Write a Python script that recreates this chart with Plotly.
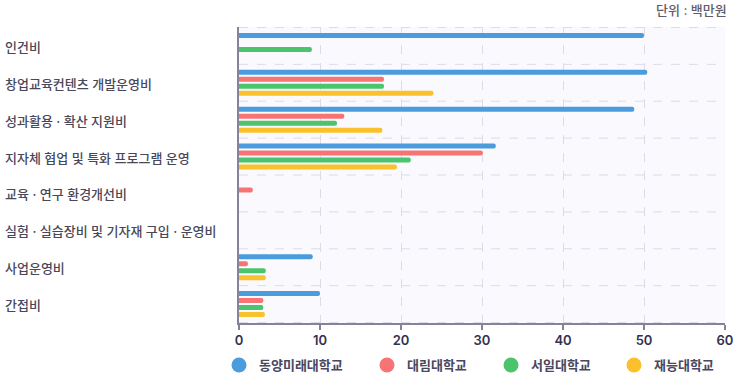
import plotly.graph_objects as go

categories = ["인건비", "창업교육컨텐츠 개발운영비", "성과활용 · 확산 지원비", "지자체 협업 및 특화 프로그램 운영",
              "교육 · 연구 환경개선비", "실험 · 실습장비 및 기자재 구입 · 운영비", "사업운영비", "간접비"]
series_names = ["동양미래대학교", "대림대학교", "서일대학교", "재능대학교"]
dongyang = [50.0, 50.4, 48.8, 31.7, 0, 0, 9.1, 10.0]
daelim = [0, 17.9, 13.0, 30.1, 1.7, 0, 1.1, 3.0]
seoil = [9.0, 17.9, 12.1, 21.2, 0, 0, 3.3, 3.0]
jaeneung = [0, 24.0, 17.7, 19.5, 0, 0, 3.3, 3.2]
x_ticks = [0, 10, 20, 30, 40, 50, 60]
colors = ["#4a9cdc", "#f87474", "#4bc46c", "#fbc12c"]

FONT = "Inter, Noto Sans CJK KR"
W, H = 736, 377
L, R, T, B = 239, 11, 27, 54
PW, PH = W - L - R, H - T - B

fig = go.Figure()
for name, vals, col in zip(series_names, [dongyang, daelim, seoil, jaeneung], colors):
    fig.add_trace(go.Bar(y=categories, x=vals, name=name, orientation="h",
                         marker=dict(color=col, line=dict(width=0)), showlegend=False))
legend_ids = ["legend", "legend2", "legend3", "legend4"]
for name, col, lid in zip(series_names, colors, legend_ids):
    fig.add_trace(go.Scatter(x=[None], y=[None], mode="markers", name=name, legend=lid,
                             marker=dict(color=col, size=15, symbol="circle")))

shapes = []
for i in range(len(categories) + 1):
    shapes.append(dict(type="line", xref="paper", x0=0, x1=1, yref="y", y0=i - 0.5, y1=i - 0.5,
                       line=dict(color="#dddbe9", width=1, dash="dash"), layer="below"))

annotations = []
for c in categories:
    annotations.append(dict(text=c, x=(3 - L) / PW, xref="paper", xanchor="left", y=c, yref="y",
                            yshift=-1, showarrow=False,
                            font=dict(size=13, color="#4a4759", family=FONT, weight=500)))
annotations.append(dict(text="단위 : 백만원", x=(729 - L) / PW, xref="paper", xanchor="right",
                        y=1 + (T - 10) / PH, yref="paper", yanchor="middle", showarrow=False,
                        font=dict(size=13, color="#5f5d6b", family=FONT, weight=500)))

legend_left_px = [219, 367, 491, 614]
legend_cfg = {}
for lid, lx in zip(legend_ids, legend_left_px):
    legend_cfg[lid] = dict(orientation="h", x=(lx - L) / PW, xanchor="left", y=-42 / PH, yanchor="middle",
                           font=dict(size=13, color="#4a4760", family=FONT, weight=600),
                           bgcolor="rgba(0,0,0,0)", borderwidth=0)

fig.update_layout(
    width=W, height=H,
    margin=dict(l=L, r=R, t=T, b=B, autoexpand=False),
    paper_bgcolor="white", plot_bgcolor="#f9f9fe",
    barmode="group", bargap=0.24, bargroupgap=0.29, barcornerradius=3,
    font=dict(family=FONT, color="#3d3a5a"),
    shapes=shapes, annotations=annotations,
    **legend_cfg,
)
fig.update_xaxes(range=[0, 60], tickvals=x_ticks, showgrid=True, gridcolor="#dddbe9", griddash="dash",
                 zeroline=False, showline=True, linecolor="#85829a", linewidth=1.5,
                 ticks="outside", ticklen=5, tickcolor="#85829a", tickwidth=1.5,
                 tickfont=dict(size=13, color="#34314f", family=FONT, weight=600))
fig.update_yaxes(autorange="reversed", showticklabels=False, showgrid=False, zeroline=False,
                 showline=True, linecolor="#85829a", linewidth=1.5, ticks="")

fig.write_html("out.html", config={"displayModeBar": False},
               post_script="document.body.style.margin='0';")
